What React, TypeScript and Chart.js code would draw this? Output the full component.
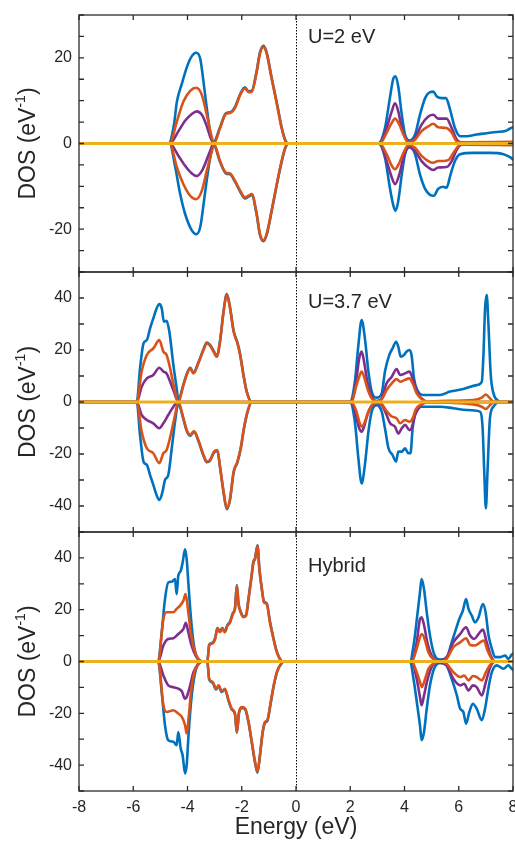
import React, { useEffect, useRef } from 'react';
import { Chart, registerables } from 'chart.js';

Chart.register(...registerables);

type Pt = [number, number];

// ---------- tick values ----------
const energyTicks = [-8, -6, -4, -2, 0, 2, 4, 6, 8];
const dosLabels1 = [-20, 0, 20];
const dosLabels23 = [-40, -20, 0, 20, 40];
const zeroLine: Pt[] = [[-8, 0], [8, 0]];

// ---------- U = 2 eV ----------
const u2TotUp: Pt[] = [
  [-8, 0], [-4.7, 0], [-4.5, 4.4], [-4.39, 9.8], [-4.21, 13.9], [-4.02, 17.9], [-3.84, 20.4], [-3.68, 21.2], [-3.53, 19.8], [-3.41, 14.4], [-3.29, 8.3], [-3.17, 2.9], [-3.04, 0.3],
  [-2.8, 3.8], [-2.58, 7.1], [-2.43, 7.3], [-2.25, 8.5], [-2.06, 11.5], [-1.88, 13.1], [-1.75, 12.2], [-1.63, 12.3], [-1.45, 16.9], [-1.33, 21.2], [-1.2, 22.8], [-1.08, 21.2], [-0.9, 15.4], [-0.71, 9.6], [-0.53, 3.8], [-0.4, 0.9], [-0.28, 0],
  [3.03, 0], [3.28, 3.6], [3.46, 10.6], [3.59, 15.2], [3.67, 15.7], [3.77, 13.3], [3.9, 6.7], [4.02, 2.1], [4.2, 0.7], [4.39, 2.1], [4.57, 6.7], [4.76, 10.6], [4.94, 12.0], [5.06, 12.1], [5.19, 11.0], [5.37, 10.6], [5.53, 10.6], [5.68, 7.9], [5.86, 3.6], [6.05, 1.7], [6.29, 1.7], [6.66, 2.1], [7.03, 2.4], [7.4, 2.7], [7.71, 2.9], [7.89, 3.5], [8, 3.8],
];
const u2TotDn: Pt[] = [
  [-8, 0], [-4.66, 0], [-4.45, -5.6], [-4.27, -11.8], [-4.09, -16.4], [-3.84, -20.3], [-3.68, -21.2], [-3.53, -19.5], [-3.39, -13.3], [-3.26, -7.2], [-3.14, -2.5], [-3.04, -0.3],
  [-2.8, -4.3], [-2.58, -7.0], [-2.43, -7.2], [-2.25, -8.9], [-2.06, -11.2], [-1.88, -12.8], [-1.75, -12.4], [-1.63, -12.0], [-1.45, -16.6], [-1.33, -21.3], [-1.2, -22.8], [-1.08, -21.3], [-0.9, -15.9], [-0.71, -9.7], [-0.53, -4.3], [-0.4, -1.2], [-0.28, 0],
  [3.03, 0], [3.28, -3.3], [3.46, -10.3], [3.59, -14.5], [3.67, -15.7], [3.77, -13.4], [3.9, -7.2], [4.02, -2.5], [4.2, -0.8], [4.39, -2.5], [4.57, -7.2], [4.76, -10.6], [4.94, -12.0], [5.08, -12.2], [5.24, -10.6], [5.42, -10.1], [5.55, -10.3], [5.7, -7.2], [5.86, -4.1], [6.05, -2.5], [6.54, -2.2], [7.16, -2.2], [7.65, -2.5], [7.89, -3.2], [8, -3.7],
];
const u2OrUp: Pt[] = [
  [-8, 0], [-4.66, 0], [-4.39, 5.2], [-4.15, 9.8], [-3.9, 12.3], [-3.68, 13.0], [-3.47, 11.3], [-3.29, 6.7], [-3.1, 1.3], [-3.02, 0.1],
  [-2.8, 3.6], [-2.58, 6.9], [-2.43, 7.1], [-2.25, 8.3], [-2.06, 11.3], [-1.88, 12.9], [-1.75, 12.0], [-1.63, 12.1], [-1.45, 16.7], [-1.33, 21.0], [-1.2, 22.5], [-1.08, 21.0], [-0.9, 15.2], [-0.71, 9.4], [-0.53, 3.6], [-0.4, 0.7], [-0.28, 0],
  [3.09, 0], [3.34, 2.5], [3.53, 4.8], [3.65, 5.8], [3.81, 4.4], [3.96, 2.1], [4.14, 0.3], [4.39, 0.9], [4.63, 2.9], [4.88, 4.0], [5.06, 4.6], [5.24, 3.8], [5.55, 3.6], [5.74, 2.5], [5.93, 0.5], [6.17, 0.3], [8, 0.4],
];
const u2OrDn: Pt[] = [
  [-8, 0], [-4.66, 0], [-4.39, -5.6], [-4.15, -9.5], [-3.9, -12.2], [-3.68, -13.0], [-3.47, -11.0], [-3.29, -6.4], [-3.1, -1.8], [-3.02, -0.1],
  [-2.8, -4.1], [-2.58, -6.8], [-2.43, -7.0], [-2.25, -8.7], [-2.06, -11.0], [-1.88, -12.6], [-1.75, -12.2], [-1.63, -11.8], [-1.45, -16.4], [-1.33, -21.1], [-1.2, -22.6], [-1.08, -21.1], [-0.9, -15.7], [-0.71, -9.5], [-0.53, -4.1], [-0.4, -1.0], [-0.28, 0],
  [3.09, 0], [3.34, -2.5], [3.53, -5.2], [3.65, -6.0], [3.81, -4.5], [3.96, -2.2], [4.14, -0.4], [4.39, -1.0], [4.63, -2.9], [4.88, -4.1], [5.06, -4.5], [5.24, -4.1], [5.42, -4.1], [5.61, -3.9], [5.8, -2.2], [5.99, -0.6], [6.17, -0.3], [8, -0.4],
];
const u2PuUp: Pt[] = [
  [-8, 0], [-4.66, 0], [-4.33, 2.9], [-4.09, 5.3], [-3.84, 6.9], [-3.66, 7.5], [-3.47, 6.7], [-3.31, 4.4], [-3.17, 1.7], [-3.04, 0],
  [3.09, 0], [3.34, 3.6], [3.53, 7.5], [3.65, 9.4], [3.77, 7.5], [3.9, 3.6], [4.08, 0.7], [4.2, 0.3], [4.39, 1.3], [4.63, 4.4], [4.88, 6.3], [5.06, 6.7], [5.24, 5.8], [5.55, 5.8], [5.74, 3.6], [5.93, 0.9], [6.17, 0], [8, 0],
];
const u2PuDn: Pt[] = [
  [-8, 0], [-4.66, 0], [-4.33, -2.9], [-4.09, -5.2], [-3.84, -7.0], [-3.66, -7.6], [-3.47, -6.4], [-3.31, -4.1], [-3.17, -1.8], [-3.04, 0],
  [3.09, 0], [3.34, -4.1], [3.53, -7.9], [3.65, -9.5], [3.81, -7.2], [3.96, -3.3], [4.14, -0.8], [4.39, -1.8], [4.63, -4.1], [4.88, -5.6], [5.06, -6.2], [5.24, -5.6], [5.55, -5.5], [5.74, -4.1], [5.93, -1.4], [6.17, 0], [8, 0],
];

// ---------- U = 3.7 eV ----------
const u37TotUp: Pt[] = [
  [-8, 0], [-5.87, 0], [-5.75, 12.9], [-5.62, 22.6], [-5.5, 23.8], [-5.38, 28.3], [-5.26, 32.2], [-5.14, 36.0], [-5.04, 37.7], [-4.95, 36.0], [-4.87, 30.9], [-4.77, 31.2], [-4.67, 27.1], [-4.52, 14.2], [-4.4, 5.3], [-4.34, 0.8],
  [-4.15, 6.8], [-4.03, 10.7], [-3.9, 13.2], [-3.78, 11.3], [-3.6, 15.2], [-3.41, 20.3], [-3.29, 22.9], [-3.17, 22.0], [-3.04, 19.7], [-2.92, 17.7], [-2.8, 23.5], [-2.67, 35.0], [-2.55, 41.5], [-2.43, 36.3], [-2.3, 27.4], [-2.16, 22.9], [-2.06, 18.4], [-1.94, 10.7], [-1.82, 4.2], [-1.63, 0],
  [1.98, 0], [2.17, 7.8], [2.3, 21.9], [2.42, 31.5], [2.54, 24.5], [2.67, 11.7], [2.79, 4.0], [2.97, 1.7], [3.16, 3.3], [3.28, 11.7], [3.44, 18.1], [3.56, 20.6], [3.69, 23.2], [3.77, 21.3], [3.86, 17.4], [3.98, 18.1], [4.08, 19.4], [4.18, 20.0], [4.26, 18.1], [4.35, 9.1], [4.47, 4.6], [4.69, 2.7], [5.31, 2.7], [5.68, 4.0], [6.17, 5.0], [6.66, 6.5], [6.85, 7.8], [6.91, 18.1], [6.97, 36.0], [7.03, 41.2], [7.09, 30.9], [7.18, 10.4], [7.28, 3.3], [7.46, 0.4], [7.52, 0], [8, 0],
];
const u37TotDn: Pt[] = [
  [-8, 0], [-5.87, 0], [-5.75, -12.7], [-5.62, -23.0], [-5.5, -24.2], [-5.38, -28.1], [-5.26, -31.9], [-5.14, -35.8], [-5.04, -37.7], [-4.92, -34.5], [-4.83, -30.0], [-4.71, -28.1], [-4.58, -17.8], [-4.46, -7.6], [-4.34, -0.8],
  [-4.15, -6.6], [-4.03, -11.1], [-3.9, -13.0], [-3.76, -11.5], [-3.6, -14.9], [-3.41, -20.7], [-3.29, -23.2], [-3.17, -22.6], [-3.02, -19.4], [-2.9, -18.8], [-2.8, -25.2], [-2.67, -34.8], [-2.55, -41.2], [-2.43, -37.4], [-2.3, -27.1], [-2.16, -23.2], [-2.04, -18.1], [-1.92, -10.4], [-1.79, -4.0], [-1.63, 0],
  [1.98, 0], [2.17, -7.6], [2.3, -21.7], [2.42, -31.3], [2.54, -24.2], [2.67, -11.4], [2.79, -3.7], [2.97, -1.2], [3.16, -3.7], [3.28, -10.1], [3.41, -17.8], [3.56, -20.4], [3.69, -22.9], [3.77, -19.1], [3.9, -19.1], [4.02, -17.8], [4.14, -19.7], [4.22, -19.7], [4.3, -10.1], [4.42, -3.7], [4.63, -1.8], [5.31, -1.8], [5.8, -2.4], [6.29, -3.1], [6.78, -3.7], [6.88, -10.1], [6.94, -26.8], [7.0, -40.9], [7.06, -26.8], [7.15, -6.3], [7.28, -1.8], [7.5, 0], [8, 0],
];
const u37OrUp: Pt[] = [
  [-8, 0], [-5.87, 0], [-5.69, 11.7], [-5.5, 18.1], [-5.26, 20.6], [-5.04, 23.8], [-4.89, 19.4], [-4.77, 18.1], [-4.64, 12.9], [-4.5, 5.9], [-4.34, 0],
  [-4.15, 6.5], [-4.03, 10.4], [-3.9, 12.9], [-3.78, 11.0], [-3.6, 14.9], [-3.41, 20.0], [-3.29, 22.6], [-3.17, 21.7], [-3.04, 19.4], [-2.92, 17.4], [-2.8, 23.2], [-2.67, 34.7], [-2.55, 41.2], [-2.43, 36.0], [-2.3, 27.1], [-2.16, 22.6], [-2.06, 18.1], [-1.94, 10.4], [-1.82, 4.0], [-1.63, 0],
  [2.04, 0], [2.23, 6.5], [2.33, 9.7], [2.42, 11.7], [2.51, 9.7], [2.63, 5.3], [2.79, 1.4], [2.97, 0.3], [3.16, 1.0], [3.34, 4.6], [3.53, 7.2], [3.71, 8.8], [3.84, 7.8], [4.02, 8.5], [4.18, 9.1], [4.3, 7.2], [4.45, 3.3], [4.63, 1.2], [4.82, 0.2], [5.31, 0.4], [6.54, 0.8], [6.85, 1.7], [7.0, 2.9], [7.15, 1.4], [7.3, 0], [8, 0],
];
const u37OrDn: Pt[] = [
  [-8, 0], [-5.87, 0], [-5.69, -11.4], [-5.5, -17.8], [-5.26, -19.7], [-5.04, -23.5], [-4.89, -19.7], [-4.77, -18.5], [-4.62, -12.7], [-4.47, -5.6], [-4.34, 0],
  [-4.15, -6.3], [-4.03, -10.8], [-3.9, -12.7], [-3.76, -11.2], [-3.6, -14.6], [-3.41, -20.4], [-3.29, -22.9], [-3.17, -22.3], [-3.02, -19.1], [-2.9, -18.5], [-2.8, -24.9], [-2.67, -34.5], [-2.55, -40.9], [-2.43, -37.1], [-2.3, -26.8], [-2.16, -22.9], [-2.04, -17.8], [-1.92, -10.1], [-1.79, -3.7], [-1.63, 0],
  [2.04, 0], [2.23, -3.7], [2.35, -8.2], [2.44, -9.5], [2.54, -7.6], [2.67, -3.7], [2.79, -1.4], [2.97, -0.3], [3.16, -0.8], [3.34, -3.5], [3.53, -5.6], [3.71, -6.3], [3.84, -8.2], [4.02, -6.9], [4.18, -7.6], [4.3, -6.3], [4.42, -2.7], [4.63, -0.9], [4.82, -0.2], [6.54, -0.9], [6.85, -1.8], [7.0, -2.7], [7.15, -1.2], [7.3, 0], [8, 0],
];
const u37PuUp: Pt[] = [
  [-8, 0], [-5.87, 0], [-5.69, 5.9], [-5.5, 9.1], [-5.26, 10.4], [-5.04, 13.2], [-4.89, 11.7], [-4.77, 11.0], [-4.64, 7.8], [-4.5, 4.0], [-4.34, 0],
  [2.04, 0], [2.23, 9.1], [2.33, 16.8], [2.42, 19.4], [2.51, 15.5], [2.63, 7.8], [2.79, 2.1], [2.97, 0.4], [3.16, 1.4], [3.34, 7.2], [3.53, 9.7], [3.71, 12.7], [3.84, 10.4], [4.02, 11.0], [4.18, 11.7], [4.3, 9.1], [4.45, 4.0], [4.63, 1.4], [4.82, 0], [8, 0],
];
const u37PuDn: Pt[] = [
  [-8, 0], [-5.87, 0], [-5.69, -5.0], [-5.5, -6.9], [-5.26, -8.2], [-5.04, -10.1], [-4.89, -8.2], [-4.71, -5.0], [-4.52, -1.8], [-4.34, 0],
  [2.04, 0], [2.23, -6.3], [2.33, -10.1], [2.42, -11.4], [2.51, -9.5], [2.63, -5.0], [2.79, -1.4], [2.97, -0.5], [3.16, -1.2], [3.34, -5.0], [3.47, -8.2], [3.65, -9.5], [3.77, -12.1], [3.9, -10.1], [4.02, -8.8], [4.18, -10.8], [4.26, -10.1], [4.39, -5.0], [4.57, -1.8], [4.82, 0], [8, 0],
];

// ---------- Hybrid ----------
const hyTotUp: Pt[] = [
  [-8, 0], [-5.08, 0], [-4.95, 11.3], [-4.83, 24.1], [-4.71, 30.5], [-4.58, 30.8], [-4.46, 31.8], [-4.4, 26.0], [-4.34, 33.1], [-4.25, 35.0], [-4.18, 38.2], [-4.09, 43.3], [-4.03, 39.5], [-3.97, 30.5], [-3.88, 17.7], [-3.78, 7.4], [-3.66, 1.7], [-3.54, 0.4], [-3.4, 0],
  [-3.27, 0], [-3.2, 6.5], [-3.11, 7.1], [-2.98, 9.0], [-2.9, 12.9], [-2.8, 11.6], [-2.72, 12.9], [-2.62, 11.6], [-2.53, 14.1], [-2.43, 15.4], [-2.33, 18.6], [-2.25, 20.6], [-2.18, 29.5], [-2.12, 22.5], [-2.04, 19.3], [-1.94, 17.4], [-1.84, 18.0], [-1.75, 24.4], [-1.65, 32.1], [-1.57, 38.5], [-1.51, 39.8], [-1.42, 44.9], [-1.35, 35.9], [-1.26, 28.2], [-1.18, 23.1], [-1.08, 22.5], [-0.96, 15.4], [-0.83, 9.0], [-0.71, 3.9], [-0.56, 0.5], [-0.48, 0],
  [4.2, 0], [4.35, 7.4], [4.47, 17.7], [4.57, 26.7], [4.63, 31.8], [4.72, 27.9], [4.82, 19.0], [4.94, 10.0], [5.09, 2.9], [5.31, 0.8], [5.53, 1.0], [5.74, 7.4], [5.9, 12.6], [6.02, 16.4], [6.15, 19.6], [6.27, 24.1], [6.36, 20.3], [6.48, 17.7], [6.6, 15.1], [6.73, 17.1], [6.89, 22.2], [6.99, 19.0], [7.1, 10.0], [7.22, 4.9], [7.34, 1.7], [7.52, 1.7], [7.71, 2.3], [7.83, 1.0], [7.95, 2.6], [8, 3.0],
];
const hyTotDn: Pt[] = [
  [-8, 0], [-5.08, 0], [-4.95, -11.8], [-4.83, -24.6], [-4.71, -30.4], [-4.52, -31.0], [-4.4, -32.3], [-4.34, -27.2], [-4.25, -33.6], [-4.18, -36.2], [-4.09, -43.2], [-4.03, -40.0], [-3.97, -29.7], [-3.88, -16.9], [-3.78, -7.9], [-3.66, -2.2], [-3.5, 0],
  [-3.27, 0], [-3.2, -7.0], [-3.07, -8.2], [-2.95, -10.8], [-2.85, -9.5], [-2.74, -11.8], [-2.62, -10.8], [-2.5, -14.7], [-2.37, -18.5], [-2.25, -20.4], [-2.18, -27.5], [-2.1, -19.8], [-1.99, -17.9], [-1.87, -18.5], [-1.75, -23.6], [-1.63, -31.3], [-1.51, -39.0], [-1.42, -42.9], [-1.33, -36.5], [-1.23, -27.5], [-1.14, -23.6], [-1.06, -23.0], [-0.93, -15.9], [-0.81, -8.9], [-0.69, -3.8], [-0.52, -0.6], [-0.45, 0],
  [4.2, 0], [4.35, -7.9], [4.47, -16.9], [4.57, -24.6], [4.63, -30.4], [4.72, -27.2], [4.82, -18.2], [4.94, -9.2], [5.09, -2.8], [5.31, -0.6], [5.53, -1.3], [5.74, -6.7], [5.93, -13.1], [6.05, -18.2], [6.17, -19.5], [6.27, -24.0], [6.39, -19.5], [6.52, -16.3], [6.66, -18.2], [6.85, -22.7], [6.97, -18.2], [7.1, -9.9], [7.22, -4.1], [7.4, -1.5], [7.65, -2.8], [7.83, -1.5], [7.95, -2.8], [8, -3.2],
];
const hyOrUp: Pt[] = [
  [-8, 0], [-5.08, 0], [-4.89, 16.4], [-4.77, 19.0], [-4.52, 19.0], [-4.4, 20.3], [-4.28, 21.5], [-4.15, 23.5], [-4.07, 26.0], [-3.97, 19.0], [-3.88, 11.3], [-3.76, 4.9], [-3.6, 1.0], [-3.45, 0],
  [-3.27, 0], [-3.2, 6.2], [-3.11, 6.8], [-2.98, 8.7], [-2.9, 12.6], [-2.8, 11.3], [-2.72, 12.6], [-2.62, 11.3], [-2.53, 13.8], [-2.43, 15.1], [-2.33, 18.3], [-2.25, 20.3], [-2.18, 29.2], [-2.12, 22.2], [-2.04, 19.0], [-1.94, 17.1], [-1.84, 17.7], [-1.75, 24.1], [-1.65, 31.8], [-1.57, 38.2], [-1.51, 39.5], [-1.42, 44.6], [-1.35, 35.6], [-1.26, 27.9], [-1.18, 22.8], [-1.08, 22.2], [-0.96, 15.1], [-0.83, 8.7], [-0.71, 3.6], [-0.56, 0.4], [-0.48, 0],
  [4.26, 0], [4.45, 4.9], [4.57, 9.4], [4.64, 10.6], [4.76, 8.1], [4.88, 3.6], [5.06, 1.0], [5.31, 0], [5.55, 1.0], [5.8, 5.5], [6.05, 7.4], [6.27, 9.0], [6.42, 6.4], [6.6, 6.2], [6.79, 7.4], [6.93, 8.1], [7.06, 4.2], [7.22, 1.0], [7.34, 0], [8, 0],
];
const hyOrDn: Pt[] = [
  [-8, 0], [-5.08, 0], [-4.89, -16.9], [-4.77, -19.5], [-4.52, -18.8], [-4.34, -20.1], [-4.21, -21.4], [-4.09, -24.6], [-4.03, -27.8], [-3.95, -20.8], [-3.87, -11.8], [-3.76, -4.7], [-3.6, -1.2], [-3.45, 0],
  [-3.27, 0], [-3.2, -6.7], [-3.07, -7.9], [-2.95, -10.5], [-2.85, -9.2], [-2.74, -11.5], [-2.62, -10.5], [-2.5, -14.4], [-2.37, -18.2], [-2.25, -20.1], [-2.18, -27.2], [-2.1, -19.5], [-1.99, -17.6], [-1.87, -18.2], [-1.75, -23.3], [-1.63, -31.0], [-1.51, -38.7], [-1.42, -42.6], [-1.33, -36.2], [-1.23, -27.2], [-1.14, -23.3], [-1.06, -22.7], [-0.93, -15.6], [-0.81, -8.6], [-0.69, -3.5], [-0.52, -0.5], [-0.45, 0],
  [4.26, 0], [4.45, -4.1], [4.57, -7.9], [4.64, -9.9], [4.76, -6.7], [4.88, -2.8], [5.06, -0.9], [5.31, 0], [5.55, -0.9], [5.8, -4.1], [6.05, -6.0], [6.2, -5.4], [6.36, -7.3], [6.52, -5.6], [6.66, -6.0], [6.85, -7.3], [7.0, -4.1], [7.16, -1.3], [7.34, 0], [8, 0],
];
const hyPuUp: Pt[] = [
  [-8, 0], [-5.08, 0], [-4.89, 6.2], [-4.71, 8.7], [-4.52, 9.0], [-4.34, 10.6], [-4.15, 12.6], [-4.06, 14.9], [-3.97, 11.3], [-3.85, 6.2], [-3.69, 2.1], [-3.45, 0],
  [4.26, 0], [4.45, 7.4], [4.57, 16.4], [4.63, 17.1], [4.72, 14.1], [4.84, 7.4], [5.0, 2.3], [5.25, 0.4], [5.55, 1.7], [5.8, 7.4], [6.05, 10.6], [6.27, 13.2], [6.42, 10.0], [6.57, 8.7], [6.73, 10.6], [6.89, 12.3], [7.03, 7.4], [7.18, 2.3], [7.34, 0], [8, 0],
];
const hyPuDn: Pt[] = [
  [-8, 0], [-5.08, 0], [-4.89, -5.4], [-4.71, -9.2], [-4.52, -9.9], [-4.34, -10.5], [-4.21, -11.5], [-4.09, -14.4], [-4.03, -13.7], [-3.9, -9.2], [-3.78, -4.1], [-3.6, -0.9], [-3.45, 0],
  [4.26, 0], [4.45, -6.7], [4.57, -13.7], [4.63, -16.9], [4.72, -13.1], [4.84, -7.3], [5.0, -2.2], [5.25, -0.5], [5.55, -1.5], [5.8, -6.7], [6.05, -9.2], [6.2, -8.6], [6.36, -11.2], [6.52, -9.2], [6.66, -9.9], [6.85, -13.1], [7.0, -7.9], [7.16, -2.2], [7.34, 0], [8, 0],
];

// ---------- styling ----------
const BLUE = '#0072BD';
const ORANGE = '#D95319';
const YELLOW = '#EDB120';
const PURPLE = '#7E2F8E';
const INK = '#262626';
const FONT = '"Liberation Sans", Arial, Helvetica, sans-serif';

interface Series { data: Pt[]; color: string; width: number }
interface PanelSpec {
  label: string;
  labelOffset: number;
  yMin: number;
  yMax: number;
  yStep: number;
  yLabels: number[];
  showX: boolean;
  top: number;
  height: number;
  padTop: number;
  padBottom: number;
  series: Series[];
}

function makeSeries(tu: Pt[], td: Pt[], ou: Pt[], od: Pt[], pu: Pt[], pd: Pt[]): Series[] {
  // first entry is drawn on top in Chart.js
  return [
    { data: zeroLine, color: YELLOW, width: 3 },
    { data: ou, color: ORANGE, width: 2.6 },
    { data: od, color: ORANGE, width: 2.6 },
    { data: pu, color: PURPLE, width: 2.6 },
    { data: pd, color: PURPLE, width: 2.6 },
    { data: tu, color: BLUE, width: 2.6 },
    { data: td, color: BLUE, width: 2.6 },
  ];
}

const panels: PanelSpec[] = [
  {
    label: 'U=2 eV', labelOffset: 22.5, yMin: -30, yMax: 30, yStep: 5, yLabels: dosLabels1,
    showX: false, top: 0, height: 275, padTop: 15, padBottom: 3,
    series: makeSeries(u2TotUp, u2TotDn, u2OrUp, u2OrDn, u2PuUp, u2PuDn),
  },
  {
    label: 'U=3.7 eV', labelOffset: 30, yMin: -50, yMax: 50, yStep: 10, yLabels: dosLabels23,
    showX: false, top: 270, height: 265, padTop: 2, padBottom: 3,
    series: makeSeries(u37TotUp, u37TotDn, u37OrUp, u37OrDn, u37PuUp, u37PuDn),
  },
  {
    label: 'Hybrid', labelOffset: 34, yMin: -50, yMax: 50, yStep: 10, yLabels: dosLabels23,
    showX: true, top: 530, height: 311, padTop: 2, padBottom: 0,
    series: makeSeries(hyTotUp, hyTotDn, hyOrUp, hyOrDn, hyPuUp, hyPuDn),
  },
];

function framePlugin(spec: PanelSpec) {
  return {
    id: 'frameDeco',
    beforeDatasetsDraw(chart: any) {
      const { ctx, chartArea: a, scales } = chart;
      const x0 = Math.round(scales.x.getPixelForValue(0)) + 0.5;
      ctx.save();
      ctx.strokeStyle = '#000';
      ctx.lineWidth = 1;
      ctx.setLineDash([1.5, 1.5]);
      ctx.beginPath();
      ctx.moveTo(x0, a.top);
      ctx.lineTo(x0, a.bottom);
      ctx.stroke();
      ctx.restore();
    },
    afterDatasetsDraw(chart: any) {
      const { ctx, chartArea: a, scales } = chart;
      const xs = scales.x;
      const ys = scales.y;
      ctx.save();
      ctx.strokeStyle = '#2b2b2b';
      ctx.lineWidth = 1.3;
      ctx.strokeRect(a.left, a.top, a.right - a.left, a.bottom - a.top);
      const tl = 5;
      ctx.beginPath();
      for (const t of xs.ticks) {
        const px = xs.getPixelForValue(t.value);
        ctx.moveTo(px, a.top); ctx.lineTo(px, a.top + tl);
        ctx.moveTo(px, a.bottom); ctx.lineTo(px, a.bottom - tl);
      }
      for (const t of ys.ticks) {
        const py = ys.getPixelForValue(t.value);
        ctx.moveTo(a.left, py); ctx.lineTo(a.left + tl, py);
        ctx.moveTo(a.right, py); ctx.lineTo(a.right - tl, py);
      }
      ctx.stroke();

      // panel label
      ctx.fillStyle = INK;
      ctx.font = `20px ${FONT}`;
      ctx.textAlign = 'left';
      ctx.textBaseline = 'middle';
      ctx.fillText(spec.label, xs.getPixelForValue(0) + 12, a.top + spec.labelOffset);

      // y-axis title with superscript
      const cy = (a.top + a.bottom) / 2;
      const mainFont = `23px ${FONT}`;
      const supFont = `14px ${FONT}`;
      ctx.font = mainFont;
      const w1 = ctx.measureText('DOS (eV').width;
      const w3 = ctx.measureText(')').width;
      ctx.font = supFont;
      const w2 = ctx.measureText('-1').width;
      const total = w1 + w2 + w3;
      ctx.translate(29, cy);
      ctx.rotate(-Math.PI / 2);
      let x = -total / 2;
      ctx.textBaseline = 'middle';
      ctx.font = mainFont;
      ctx.fillText('DOS (eV', x, 0);
      x += w1;
      ctx.font = supFont;
      ctx.fillText('-1', x, -8);
      x += w2;
      ctx.font = mainFont;
      ctx.fillText(')', x, 0);
      ctx.restore();
    },
  };
}

function Panel({ spec }: { spec: PanelSpec }) {
  const ref = useRef<HTMLCanvasElement>(null);
  useEffect(() => {
    const canvas = ref.current;
    if (!canvas) return;
    const datasets = spec.series.map((s) => ({
      data: s.data.map(([x, y]) => ({ x, y })),
      borderColor: s.color,
      backgroundColor: s.color,
      borderWidth: s.width,
      pointRadius: 0,
      fill: false,
      cubicInterpolationMode: 'monotone' as const,
      borderJoinStyle: 'round' as const,
      borderCapStyle: 'round' as const,
    }));
    const chart = new Chart(canvas, {
      type: 'line',
      data: { datasets },
      options: {
        animation: false,
        responsive: false,
        events: [],
        layout: { padding: { top: spec.padTop, right: 2, bottom: spec.padBottom, left: 0 } },
        plugins: { legend: { display: false }, tooltip: { enabled: false } },
        scales: {
          x: {
            type: 'linear',
            min: -8,
            max: 8,
            display: spec.showX,
            afterBuildTicks: (s: any) => { s.ticks = energyTicks.map((v) => ({ value: v })); },
            afterFit: (s: any) => {
              s.height = spec.showX ? 50 : 0;
              s.paddingLeft = 0;
              s.paddingRight = 0;
            },
            grid: { display: false, drawTicks: false },
            border: { display: false },
            ticks: {
              autoSkip: false,
              maxRotation: 0,
              padding: 7,
              color: INK,
              font: { family: FONT, size: 16 },
              callback: (v: any) => String(v),
            },
            title: {
              display: spec.showX,
              text: 'Energy (eV)',
              color: INK,
              font: { family: FONT, size: 23 },
              padding: { top: 0, bottom: 0 },
            },
          },
          y: {
            type: 'linear',
            min: spec.yMin,
            max: spec.yMax,
            afterFit: (s: any) => {
              s.width = 79;
              s.paddingTop = 0;
              s.paddingBottom = 0;
            },
            grid: { display: false, drawTicks: false },
            border: { display: false },
            ticks: {
              stepSize: spec.yStep,
              autoSkip: false,
              padding: 7,
              color: INK,
              font: { family: FONT, size: 16 },
              callback: (v: any) => (spec.yLabels.includes(Number(v)) ? String(v) : ''),
            },
          },
        },
      },
      plugins: [framePlugin(spec)],
    } as any);
    return () => chart.destroy();
  }, [spec]);
  return (
    <canvas
      ref={ref}
      width={515}
      height={spec.height}
      style={{ position: 'absolute', left: 0, top: spec.top, width: 515, height: spec.height }}
    />
  );
}

export default function App() {
  return (
    <div style={{ position: 'absolute', left: 0, top: 0, width: 515, height: 841, background: '#fff', overflow: 'hidden' }}>
      {panels.map((p, i) => (
        <Panel key={i} spec={p} />
      ))}
    </div>
  );
}
